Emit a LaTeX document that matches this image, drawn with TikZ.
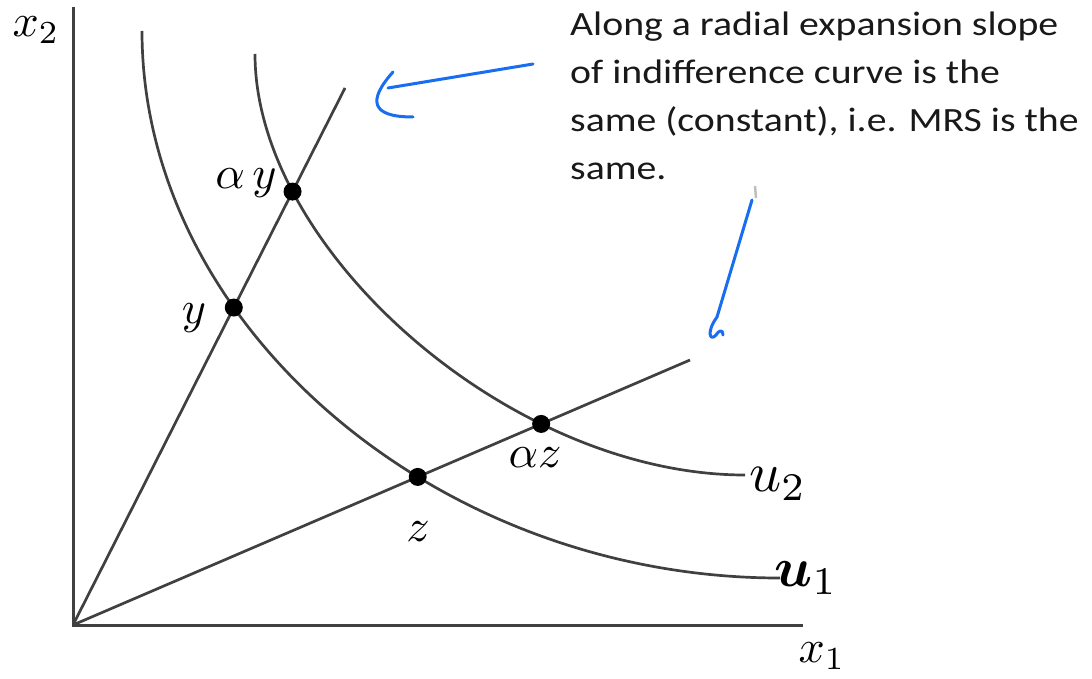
\documentclass[tikz,border=0pt]{standalone}
\usepackage{graphicx}
\usepackage{bm}
\usepackage{fontspec}
\newfontfamily\notefont{Carlito}
\usetikzlibrary{intersections}
\definecolor{curvegray}{RGB}{64,64,64}
\definecolor{penblue}{RGB}{25,110,240}
\newcommand{\lblmath}[2][4.6]{\scalebox{#1}{$#2$}}

\begin{document}
\begin{tikzpicture}[x=1pt, y=-1pt,
    curve/.style={curvegray, line width=2.7pt},
    axis/.style={curvegray, line width=3pt},
    pen/.style={penblue, line width=3pt, line cap=round, line join=round},
    bundle/.style={circle, fill=black, inner sep=0pt, minimum size=18pt},
    lbl/.style={inner sep=0pt},
    note/.style={inner sep=0pt, text=black!90, font=\notefont\fontsize{34}{48}\selectfont}]
    \useasboundingbox (0,0) rectangle (1092,679);

    % Axes
    \coordinate (O) at (73,625);
    \coordinate (X) at (803,625);
    \coordinate (Y) at (73,7);
    \draw[axis] (Y) -- (O) -- (X);

    % Radial expansion paths
    \coordinate (R1) at (345,88);
    \coordinate (R2) at (690,360);
    \draw[curve, name path=ray1] (O) -- (R1);
    \draw[curve, name path=ray2] (O) -- (R2);

    % Indifference curves
    \draw[curve, name path=u1] (142,31) .. controls (142,325) and (436,578) .. (780,578) coordinate (U1);
    \draw[curve, name path=u2] (255,54) .. controls (255,250) and (510,475) .. (745,475) coordinate (U2);

    % Bundles on the rays
    \path[name intersections={of=ray1 and u1, by={Py}}];
    \path[name intersections={of=ray1 and u2, by={Pay}}];
    \path[name intersections={of=ray2 and u1, by={Pz}}];
    \path[name intersections={of=ray2 and u2, by={Paz}}];
    \node[bundle] (dy) at (Py) {};
    \node[bundle] (day) at (Pay) {};
    \node[bundle] (dz) at (Pz) {};
    \node[bundle] (daz) at (Paz) {};

    % Labels
    \node[lbl] (lx2) at (36,30) {\lblmath{x_2}};
    \node[lbl] (lx1) at (822,656) {\lblmath{x_1}};
    \node[lbl] (lay) at (246,183) {\lblmath{\alpha\, y}};
    \node[lbl] (ly) at (194,318) {\lblmath{y}};
    \node[lbl] (lz) at (418,532) {\lblmath{z}};
    \node[lbl] (laz) at (535,458) {\lblmath{\alpha z}};
    \node[lbl] (lu2) at (778,484) {\lblmath[5.6]{u_2}};
    \node[lbl] (lu1) at (806,578) {\lblmath[5.6]{\bm{u}_1}};

    % Note
    \node[note, anchor=north west] (txt) at (570,2) {\scalebox{1.17}[1]{\begin{tabular}{@{}l@{}}Along a radial expansion slope\\ of indifference curve is the\\ same (constant), i.e. MRS is the\\ same.\end{tabular}}};

    % Pen strokes
    \draw[pen] (533,64) -- (388,88);
    \draw[pen] (393,72) .. controls (368,100) and (370,117) .. (413,117);
    \draw[pen] (752,200) -- (717,317) .. controls (706,332) and (710,342) .. (716,335)
        .. controls (719,330) and (723,329) .. (723,335);
    \draw[gray!50, line width=2.5pt] (755,186) -- (756,198);
\end{tikzpicture}
\end{document}
